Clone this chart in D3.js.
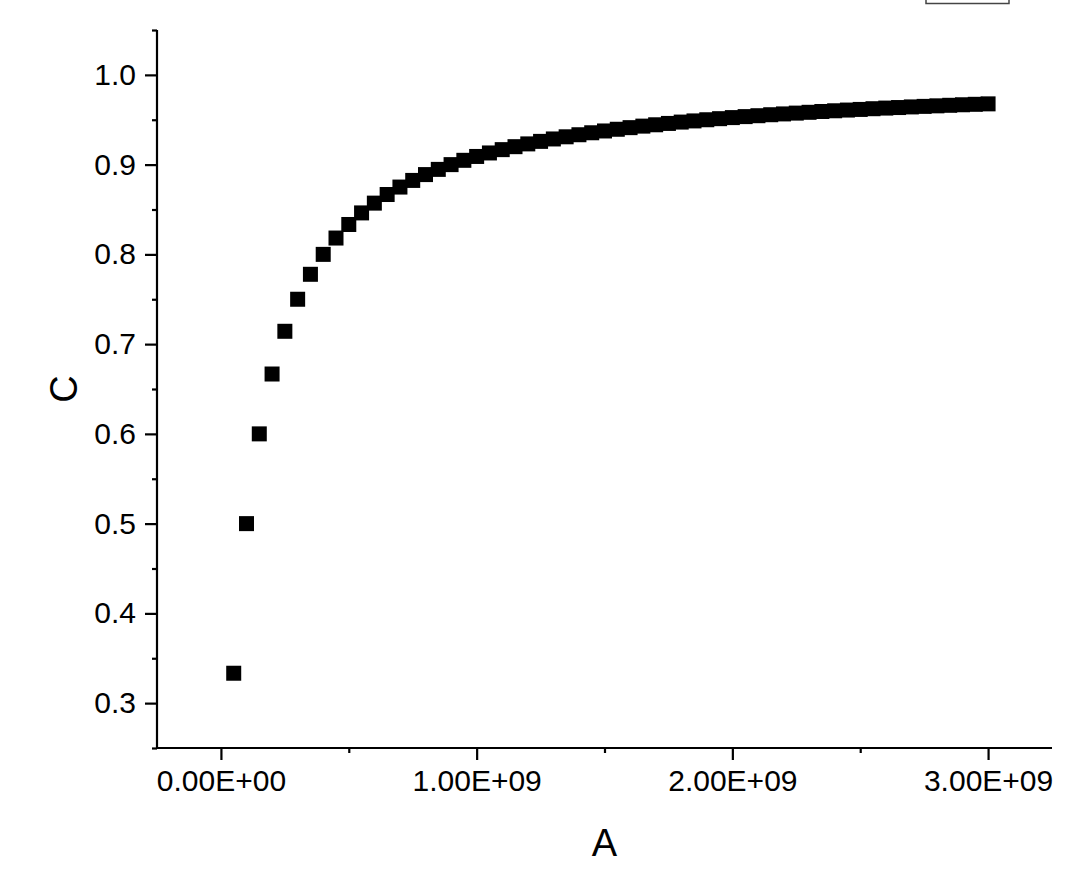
<!DOCTYPE html>
<html>
<head>
<meta charset="utf-8">
<script src="https://cdn.jsdelivr.net/npm/d3@7"></script>
<style>
  html, body { margin: 0; padding: 0; background: #fff; }
  svg { display: block; }
  text { font-family: "Liberation Sans", Arial, sans-serif; fill: #000; }
</style>
</head>
<body>
<svg id="chart" width="1080" height="885"></svg>
<script>
// ---- data ----
const aValues = [
  5e7, 1e8, 1.5e8, 2e8, 2.5e8, 3e8, 3.5e8, 4e8, 4.5e8, 5e8,
  5.5e8, 6e8, 6.5e8, 7e8, 7.5e8, 8e8, 8.5e8, 9e8, 9.5e8, 1e9,
  1.05e9, 1.1e9, 1.15e9, 1.2e9, 1.25e9, 1.3e9, 1.35e9, 1.4e9, 1.45e9, 1.5e9,
  1.55e9, 1.6e9, 1.65e9, 1.7e9, 1.75e9, 1.8e9, 1.85e9, 1.9e9, 1.95e9, 2e9,
  2.05e9, 2.1e9, 2.15e9, 2.2e9, 2.25e9, 2.3e9, 2.35e9, 2.4e9, 2.45e9, 2.5e9,
  2.55e9, 2.6e9, 2.65e9, 2.7e9, 2.75e9, 2.8e9, 2.85e9, 2.9e9, 2.95e9, 3e9
];
const cValues = [
  0.3333, 0.5, 0.6, 0.6667, 0.7143, 0.75, 0.7778, 0.8, 0.8182, 0.8333,
  0.8462, 0.8571, 0.8667, 0.875, 0.8824, 0.8889, 0.8947, 0.9, 0.9048, 0.9091,
  0.9130, 0.9167, 0.92, 0.9231, 0.9259, 0.9286, 0.9310, 0.9333, 0.9355, 0.9375,
  0.9394, 0.9412, 0.9429, 0.9444, 0.9459, 0.9474, 0.9487, 0.95, 0.9512, 0.9524,
  0.9535, 0.9545, 0.9556, 0.9565, 0.9574, 0.9583, 0.9592, 0.96, 0.9608, 0.9615,
  0.9623, 0.9630, 0.9636, 0.9643, 0.9649, 0.9655, 0.9661, 0.9667, 0.9672, 0.9677
];
const xTickValues = [0, 1e9, 2e9, 3e9];
const xTickLabels = ["0.00E+00", "1.00E+09", "2.00E+09", "3.00E+09"];
const xMinorTicks = [5e8, 1.5e9, 2.5e9];
const yTickValues = [0.3, 0.4, 0.5, 0.6, 0.7, 0.8, 0.9, 1.0];
const yTickLabels = ["0.3", "0.4", "0.5", "0.6", "0.7", "0.8", "0.9", "1.0"];
const yMinorTicks = [0.25, 0.35, 0.45, 0.55, 0.65, 0.75, 0.85, 0.95, 1.05];
const xTitle = "A";
const yTitle = "C";

// ---- layout ----
const svg = d3.select("#chart");
const plotLeft = 157, plotRight = 1052, plotTop = 30, plotBottom = 748;

const x = d3.scaleLinear().domain([-2.5e8, 3.25e9]).range([plotLeft, plotRight]);
const y = d3.scaleLinear().domain([0.25, 1.05]).range([plotBottom, plotTop]);

const points = aValues.map((a, i) => ({ a, c: cValues[i] }));

// clipped legend box at top right
svg.append("rect")
  .attr("x", 926).attr("y", -30).attr("width", 83).attr("height", 33.5)
  .attr("fill", "#fff").attr("stroke", "#444").attr("stroke-width", 1.5);

// markers
const size = 15;
svg.append("g").selectAll("rect.pt").data(points).join("rect")
  .attr("class", "pt")
  .attr("x", d => x(d.a) - size / 2)
  .attr("y", d => y(d.c) - size / 2)
  .attr("width", size).attr("height", size)
  .attr("fill", "#000");

// x axis
const xAxis = svg.append("g").attr("transform", `translate(0,${plotBottom})`)
  .call(d3.axisBottom(x).tickValues(xTickValues)
    .tickFormat((d, i) => xTickLabels[i]).tickSize(12).tickSizeOuter(0).tickPadding(10));
const xMinor = svg.append("g").attr("transform", `translate(0,${plotBottom})`)
  .call(d3.axisBottom(x).tickValues(xMinorTicks).tickFormat("").tickSize(5).tickSizeOuter(0));

// y axis
const yAxis = svg.append("g").attr("transform", `translate(${plotLeft},0)`)
  .call(d3.axisLeft(y).tickValues(yTickValues)
    .tickFormat((d, i) => yTickLabels[i]).tickSize(12).tickSizeOuter(0).tickPadding(9));
const yMinor = svg.append("g").attr("transform", `translate(${plotLeft},0)`)
  .call(d3.axisLeft(y).tickValues(yMinorTicks).tickFormat("").tickSize(5).tickSizeOuter(0));

[xAxis, xMinor, yAxis, yMinor].forEach(g => {
  g.selectAll("path.domain").attr("stroke", "#000").attr("stroke-width", 2.2);
  g.selectAll(".tick line").attr("stroke", "#000").attr("stroke-width", 2.2);
  g.selectAll(".tick text")
    .attr("fill", "#000")
    .style("font-family", '"Liberation Sans", Arial, sans-serif')
    .style("font-size", "30px");
});
xAxis.select("path.domain").attr("d", `M${plotLeft},0H${plotRight}`);
yAxis.select("path.domain").attr("d", `M0,${plotBottom}V${plotTop}`);
xMinor.select("path.domain").remove();
yMinor.select("path.domain").remove();

// titles
svg.append("text")
  .attr("x", (plotLeft + plotRight) / 2).attr("y", 856)
  .attr("text-anchor", "middle")
  .style("font-size", "38px")
  .text(xTitle);

svg.append("text")
  .attr("transform", `translate(77,${(plotTop + plotBottom) / 2}) rotate(-90)`)
  .attr("text-anchor", "middle")
  .style("font-size", "38px")
  .text(yTitle);
</script>
</body>
</html>
